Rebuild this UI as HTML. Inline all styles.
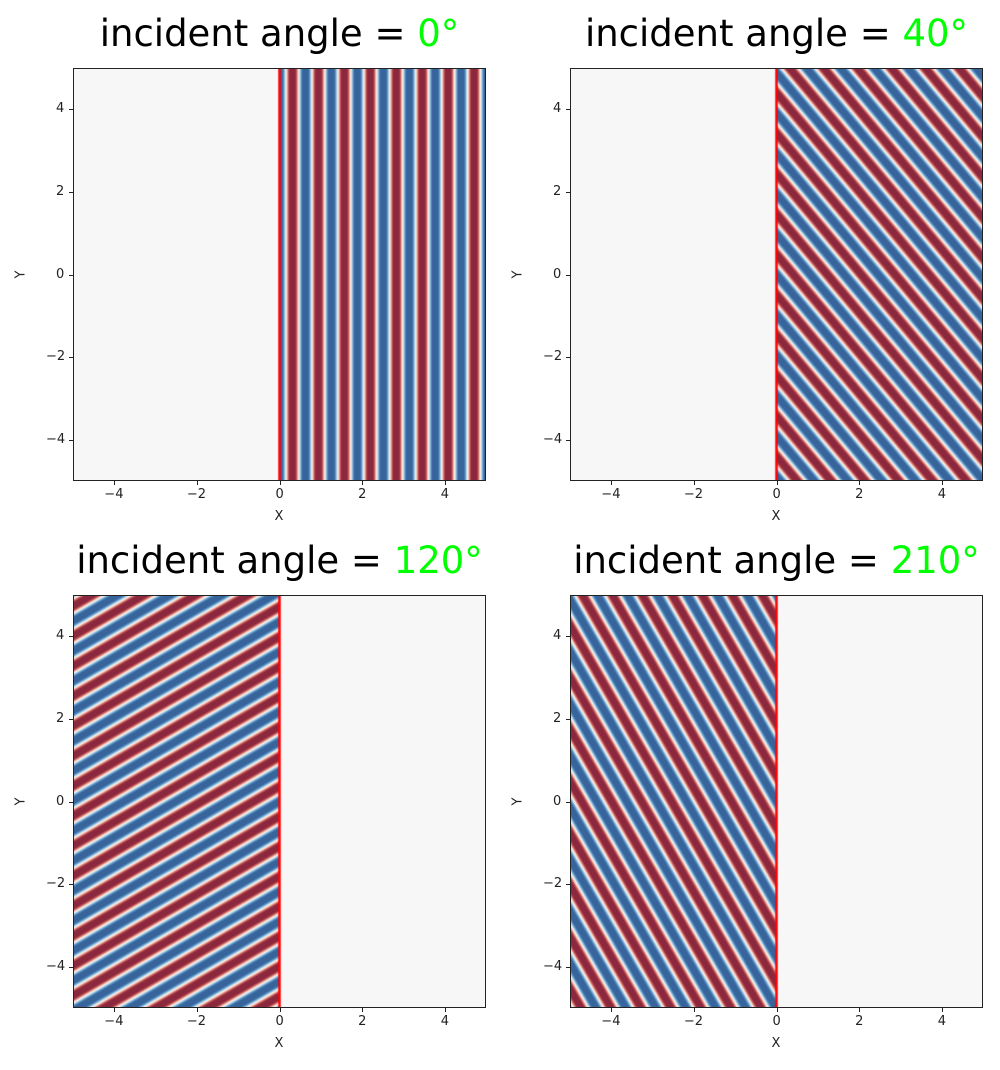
<!DOCTYPE html>
<html><head><meta charset="utf-8">
<style>
body{margin:0;background:#fff;width:1000px;height:1070px;position:relative;font-family:"DejaVu Sans","Liberation Sans",sans-serif;overflow:hidden}
.title{position:absolute;font-size:37px;text-align:center;width:500px;color:#000;white-space:nowrap}
.title span{color:#00ff00}
.ax{position:absolute;width:413px;height:413px}
.ax canvas{position:absolute;left:0;top:0}
.frame{position:absolute;left:0;top:0;width:413px;height:413px;border:1.3px solid #222;box-sizing:border-box}
.tick{position:absolute;font-size:13px;color:#222}
.lbl{position:absolute;font-size:13px;color:#222}
</style></head><body>
<div id="root"></div>
<script>
const angles=[0,40,120,210];
const waveSide=[1,1,-1,-1]; // +1 => wave on x>0, -1 => x<0
const waveNumber=[10,10,10,10];
const amplitude=[1.25,1.25,1.25,1.25];
const xTicks=[-4,-2,0,2,4];
const yTicks=[4,2,0,-2,-4];
const panelPos=[[73,68],[570,68],[73,595],[570,595]];
const S=413;
const cm=[[140,40,62],[200,90,90],[245,190,170],[247,247,247],[180,210,230],[90,150,200],[55,100,155]];
function cmap(v){
  v=Math.max(-1,Math.min(1,v));
  let t=(v+1)/2*(cm.length-1);let i=Math.min(Math.floor(t),cm.length-2);let f=t-i;
  const a=cm[i],b=cm[i+1];return [a[0]+(b[0]-a[0])*f,a[1]+(b[1]-a[1])*f,a[2]+(b[2]-a[2])*f];
}
const xs=v=>(v+5)/10*S, ys=v=>(5-v)/10*S;
const root=document.getElementById('root');
angles.forEach((ang,p)=>{
  const [L,T]=panelPos[p];
  const t=document.createElement('div');t.className='title';
  
  
  t.style.left=(L+S/2-250)+'px';t.style.top=(T-56)+'px';
  t.innerHTML='incident angle = <span>'+ang+'°</span>';root.appendChild(t);
  const ax=document.createElement('div');ax.className='ax';
  
  
  ax.style.left=L+'px';ax.style.top=T+'px';root.appendChild(ax);
  const c=document.createElement('canvas');c.width=S;c.height=S;
  
  
  ax.appendChild(c);
  const fr=document.createElement('div');fr.className='frame';
  
  
  ax.appendChild(fr);
  const ctx=c.getContext('2d');const img=ctx.createImageData(S,S);
  const k=waveNumber[p],th=ang*Math.PI/180,kx=k*Math.cos(th),ky=k*Math.sin(th);
  for(let j=0;j<S;j++)for(let i=0;i<S;i++){
    const x=-5+10*(i+0.5)/S,y=5-10*(j+0.5)/S;
    let v=0;if(x*waveSide[p]>0)v=amplitude[p]*Math.cos(kx*x+ky*y);
    const col=cmap(v);const o=(j*S+i)*4;
    img.data[o]=col[0];img.data[o+1]=col[1];img.data[o+2]=col[2];img.data[o+3]=255;}
  ctx.putImageData(img,0,0);
  ctx.strokeStyle='#ff0000';ctx.lineWidth=2.5;ctx.beginPath();ctx.moveTo(xs(0),0);ctx.lineTo(xs(0),S);ctx.stroke();
  xTicks.forEach(v=>{const e=document.createElement('div');e.className='tick';
    
    
    e.textContent=v<0?'−'+(-v):v;e.style.left=(L+xs(v)-(v<0?10:4))+'px';e.style.top=(T+S+6)+'px';root.appendChild(e);
    const m=document.createElement('div');
    
    m.style.cssText=`position:absolute;left:${L+xs(v)}px;top:${T+S}px;width:1px;height:4px;background:#222`;root.appendChild(m);});
  yTicks.forEach(v=>{const e=document.createElement('div');e.className='tick';
    
    
    e.textContent=v<0?'−'+(-v):v;e.style.left=(L-(v<0?27:17))+'px';e.style.top=(T+ys(v)-8)+'px';root.appendChild(e);
    const m=document.createElement('div');
    
    m.style.cssText=`position:absolute;left:${L-4}px;top:${T+ys(v)}px;width:4px;height:1px;background:#222`;root.appendChild(m);});
  const xl=document.createElement('div');xl.className='lbl';
  
  
  xl.textContent='X';xl.style.left=(L+S/2-5)+'px';xl.style.top=(T+S+28)+'px';root.appendChild(xl);
  const yl=document.createElement('div');yl.className='lbl';
  
  
  yl.textContent='Y';yl.style.left=(L-56)+'px';yl.style.top=(T+S/2-8)+'px';yl.style.transform='rotate(-90deg)';root.appendChild(yl);
});
</script>
</body></html>
